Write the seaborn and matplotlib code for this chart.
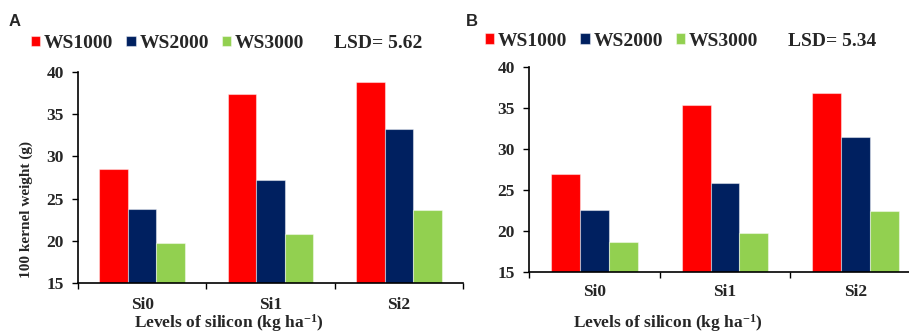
import matplotlib
matplotlib.use("Agg")
import matplotlib.pyplot as plt
import seaborn as sns
import pandas as pd

# Silicon levels and water-stress treatments
levels = ["Si0", "Si1", "Si2"]
treatments = ["WS1000", "WS2000", "WS3000"]
colors = ["#FF0000", "#002060", "#92D050"]

# 100 kernel weight (g), season A
a_ws1000 = [28.5, 37.4, 38.8]
a_ws2000 = [23.8, 27.2, 33.2]
a_ws3000 = [19.7, 20.8, 23.7]
lsd_a = 5.62

# 100 kernel weight (g), season B
b_ws1000 = [27.0, 35.4, 36.8]
b_ws2000 = [22.6, 25.8, 31.5]
b_ws3000 = [18.7, 19.8, 22.5]
lsd_b = 5.34

yticks = [15, 20, 25, 30, 35, 40]


def long_table(series):
    rows = []
    for name, vals in zip(treatments, series):
        for lev, v in zip(levels, vals):
            rows.append({"level": lev, "treatment": name, "value": v})
    return pd.DataFrame(rows)


sns.set_style("white")
plt.rcParams["font.family"] = ["Liberation Serif", "DejaVu Serif"]
plt.rcParams["font.weight"] = "bold"
plt.rcParams["axes.labelweight"] = "bold"
plt.rcParams["mathtext.fontset"] = "custom"
plt.rcParams["mathtext.rm"] = "Liberation Serif:bold"
plt.rcParams["mathtext.default"] = "rm"

W, H = 909, 334
fig = plt.figure(figsize=(W / 100, H / 100), dpi=100)


def px_axes(x0, x1, ytop, ybot):
    return fig.add_axes([x0 / W, 1 - ybot / H, (x1 - x0) / W, (ybot - ytop) / H])


ax_a = px_axes(78, 463, 72, 283)
ax_b = px_axes(529, 921, 67, 272)

panels = [
    (ax_a, [a_ws1000, a_ws2000, a_ws3000], lsd_a, 10.3),
    (ax_b, [b_ws1000, b_ws2000, b_ws3000], lsd_b, 8.6),
]

for ax, series, lsd, xpad in panels:
    df = long_table(series)
    sns.barplot(data=df, x="level", y="value", hue="treatment",
                hue_order=treatments, order=levels, palette=colors,
                saturation=1, width=0.665, ax=ax, legend=True,
                edgecolor=(1, 1, 1, 0.45), linewidth=0.8)
    ax.set_ylim(15, 40)
    ax.set_yticks(yticks)
    ax.set_xlim(-0.5, 2.5)
    ax.set_xticks([-0.5, 0.5, 1.5, 2.5], minor=True)
    ax.tick_params(axis="x", which="major", length=0, pad=xpad, labelsize=12.5)
    ax.tick_params(axis="x", which="minor", length=4, width=1, direction="out",
                   bottom=True, color="black")
    ax.tick_params(axis="y", length=4, width=1, direction="out", left=True,
                   pad=6, labelsize=12.5, color="black")
    for s in ["top", "right"]:
        ax.spines[s].set_visible(False)
    for s in ["left", "bottom"]:
        ax.spines[s].set_color("black")
        ax.spines[s].set_linewidth(1.2)
    for lab in ax.get_xticklabels() + ax.get_yticklabels():
        lab.set_fontweight("bold")
    ax.set_xlabel("Levels of silicon (kg ha$^{\\mathregular{-1}}$)",
                  fontsize=12.5, va="center")
    ax.set_ylabel("")

ax_a.set_ylabel("100 kernel weight (g)", fontsize=11, va="center")
ax_a.yaxis.set_label_coords((26 - 78) / 385, (283 - 210) / 211)
ax_a.xaxis.set_label_coords((229 - 78) / 385, (283 - 323) / 211)
ax_b.xaxis.set_label_coords((668 - 529) / 392, (272 - 323) / 205)

legend_pos = [(ax_a, 31, 43.5, 334, lsd_a), (ax_b, 485, 41, 788, lsd_b)]
for ax, lx, ly, tx, lsd in legend_pos:
    handles, labels = ax.get_legend_handles_labels()
    ax.get_legend().remove()
    fig.legend(handles, labels, loc="center left",
               bbox_to_anchor=(lx / W, 1 - ly / H), ncol=3, frameon=False,
               borderpad=0, borderaxespad=0, handlelength=0.47,
               handleheight=0.47, handletextpad=0.2, columnspacing=0.67,
               prop={"family": "Liberation Serif", "weight": "bold", "size": 14})
    fig.text(tx / W, 1 - ly / H, f"LSD= {lsd:.2f}", ha="left", va="center",
             fontsize=14, fontweight="bold")

fig.text(15 / W, 1 - 21 / H, "A", ha="center", va="center", fontsize=12,
         fontweight="bold", family="Liberation Sans")
fig.text(471.5 / W, 1 - 21 / H, "B", ha="center", va="center", fontsize=12,
         fontweight="bold", family="Liberation Sans")

fig.savefig("out.png", dpi=100)
